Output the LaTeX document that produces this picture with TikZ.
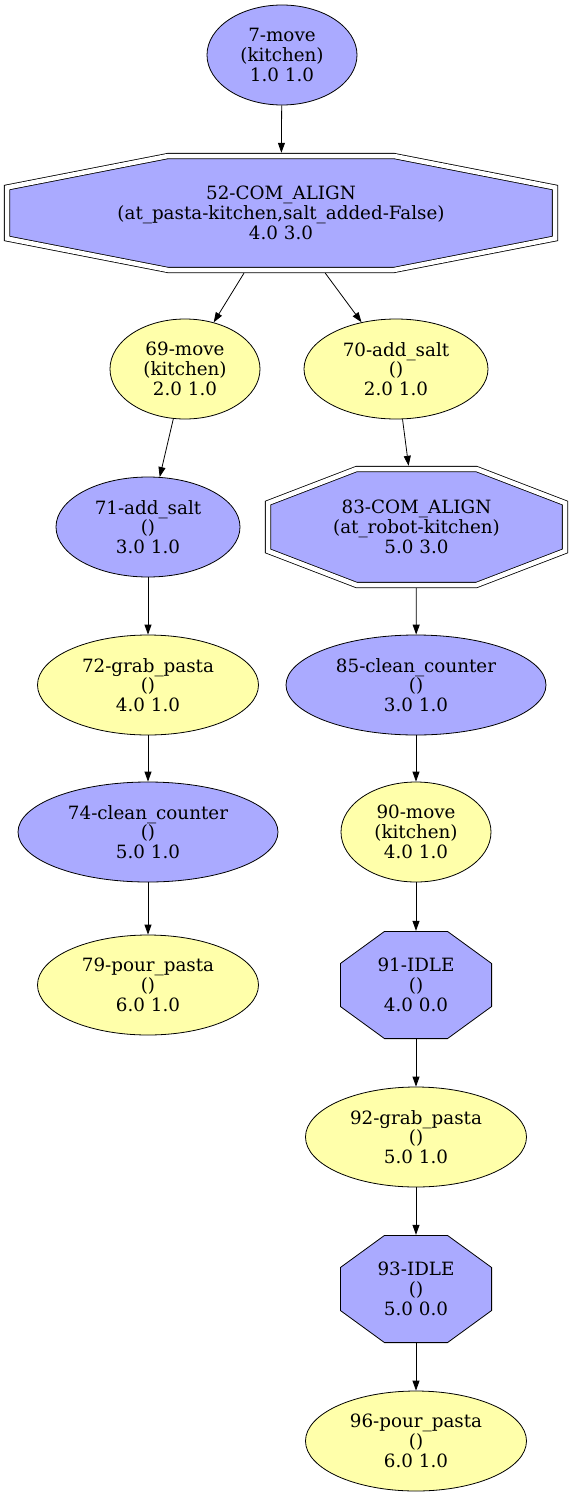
\documentclass[tikz,border=0pt]{standalone}
\usepackage{fontspec}
\setmainfont{DejaVu Serif}
\usetikzlibrary{shapes.geometric,arrows.meta,backgrounds}
\definecolor{gvblue}{HTML}{AAAAFF}
\definecolor{gvyellow}{HTML}{FFFFAA}
% #1 node, #2 half width, #3 half height, #4 half top edge, #5 half side edge, #6 style
\newcommand{\myoct}[6]{\draw[#6,shift={(#1.center)}] (-#4,-#3) -- (#4,-#3) -- (#2,-#5) -- (#2,#5) -- (#4,#3) -- (-#4,#3) -- (-#2,#5) -- (-#2,-#5) -- cycle;}
\begin{document}
\begin{tikzpicture}[x=1pt,y=-1pt,
  lbl/.style={font=\fontsize{18.3}{19.8}\selectfont, align=center, inner sep=0pt},
  ell/.style={lbl, ellipse, draw, line width=0.8pt, minimum height=100pt},
  bl/.style={ell, fill=gvblue},
  yl/.style={ell, fill=gvyellow},
  octbox/.style={lbl, rectangle},
  dbloct/.style={double, double distance=4.5pt, line width=0.8pt, fill=gvblue},
  sngoct/.style={line width=0.8pt, draw, fill=gvblue},
  edge/.style={-{Triangle[length=10pt,width=7pt]}, line width=0.8pt}
]
\useasboundingbox (0,0) rectangle (573,1496);
\node[bl, minimum width=150pt] (n7) at (282,55) {7-move\\(kitchen)\\1.0 1.0};
\node[octbox, minimum width=554pt, minimum height=120pt] (n52) at (281,213) {52-COM\_ALIGN\\(at\_pasta-kitchen,salt\_added-False)\\4.0 3.0};
\node[yl, minimum width=150pt] (n69) at (185,369) {69-move\\(kitchen)\\2.0 1.0};
\node[yl, minimum width=184pt] (n70) at (396,369) {70-add\_salt\\()\\2.0 1.0};
\node[bl, minimum width=184pt] (n71) at (148,527) {71-add\_salt\\()\\3.0 1.0};
\node[octbox, minimum width=303pt, minimum height=122pt] (n83) at (416.5,527) {83-COM\_ALIGN\\(at\_robot-kitchen)\\5.0 3.0};
\node[yl, minimum width=221pt] (n72) at (148,685) {72-grab\_pasta\\()\\4.0 1.0};
\node[bl, minimum width=260pt] (n85) at (416,685) {85-clean\_counter\\()\\3.0 1.0};
\node[bl, minimum width=260pt] (n74) at (148,832) {74-clean\_counter\\()\\5.0 1.0};
\node[yl, minimum width=150pt] (n90) at (416,832) {90-move\\(kitchen)\\4.0 1.0};
\node[yl, minimum width=221pt] (n79) at (148,985) {79-pour\_pasta\\()\\6.0 1.0};
\node[octbox, minimum width=152pt, minimum height=108pt] (n91) at (416,985) {91-IDLE\\()\\4.0 0.0};
\node[yl, minimum width=221pt] (n92) at (416,1137) {92-grab\_pasta\\()\\5.0 1.0};
\node[octbox, minimum width=152pt, minimum height=108pt] (n93) at (416,1289) {93-IDLE\\()\\5.0 0.0};
\node[yl, minimum width=221pt] (n96) at (416,1441) {96-pour\_pasta\\()\\6.0 1.0};
\begin{pgfonlayer}{background}
\fill[white] (0,0) rectangle (573,1496);
\myoct{n52}{274}{57}{113}{25.5}{dbloct}
\myoct{n83}{148.5}{58}{60}{24}{dbloct}
\myoct{n91}{75.6}{53.6}{31.5}{21.5}{sngoct}
\myoct{n93}{75.6}{53.6}{31.5}{21.5}{sngoct}
\end{pgfonlayer}
\draw[edge] (n7) -- (n52);
\draw[edge] (n52) -- (n69);
\draw[edge] (n52) -- (n70);
\draw[edge] (n69) -- (n71);
\draw[edge] (n70) -- (n83);
\draw[edge] (n71) -- (n72);
\draw[edge] (n72) -- (n74);
\draw[edge] (n74) -- (n79);
\draw[edge] (n83) -- (n85);
\draw[edge] (n85) -- (n90);
\draw[edge] (n90) -- (n91);
\draw[edge] (n91) -- (n92);
\draw[edge] (n92) -- (n93);
\draw[edge] (n93) -- (n96);
\end{tikzpicture}
\end{document}
